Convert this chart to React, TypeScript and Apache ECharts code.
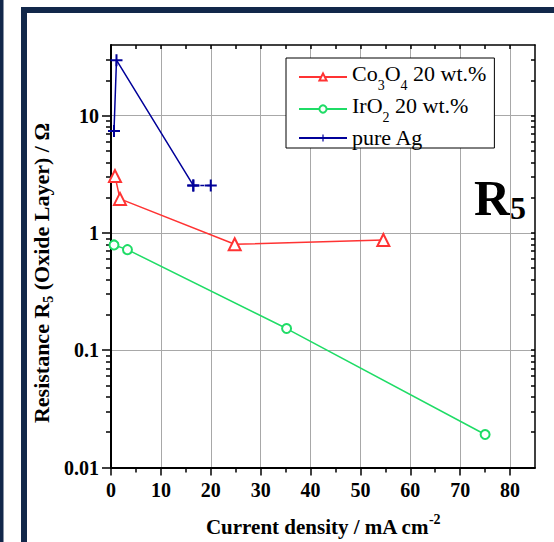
import React, { useEffect, useRef } from "react";
import * as echarts from "echarts";

const xTicks = [0, 10, 20, 30, 40, 50, 60, 70, 80];
const xMinor = [5, 15, 25, 35, 45, 55, 65, 75];
const yTicks = [0.01, 0.1, 1, 10];
const yMinor = [
  0.02, 0.03, 0.04, 0.05, 0.06, 0.07, 0.08, 0.09,
  0.2, 0.3, 0.4, 0.5, 0.6, 0.7, 0.8, 0.9,
  2, 3, 4, 5, 6, 7, 8, 9,
  20, 30,
];

const seriesNames = ["Co3O4 20 wt.%", "IrO2 20 wt.%", "pure Ag"];

const co3o4X = [0.8, 1.8, 24.8, 54.6];
const co3o4Y = [3.05, 1.95, 0.8, 0.87];

const iro2X = [0.6, 3.3, 35.2, 75.0];
const iro2Y = [0.79, 0.72, 0.153, 0.0191];

const agX = [0.6, 1.1, 16.5, 20.0];
const agY = [7.4, 29.7, 2.54, 2.54];

const RED = "#ff3333";
const GREEN = "#1fdc66";
const BLUE = "#000099";
const NAVY = "#12284a";
const GRID = "#a8a8a8";
const SERIF = "'Liberation Serif', 'Times New Roman', serif";

const zip = (xs: number[], ys: number[]) => xs.map((x, i) => [x, ys[i]]);

const PLUS = "path://M5,0H7V5H12V7H7V12H5V7H0V5H5Z";

export default function App() {
  const ref = useRef<HTMLDivElement>(null);

  useEffect(() => {
    document.body.style.margin = "0";
    if (!ref.current) return;
    const chart = echarts.init(ref.current, null, { renderer: "svg" });

    const legendRich = {
      a: { fontFamily: SERIF, fontSize: 22, color: "#000", lineHeight: 24, verticalAlign: "top" },
      s: { fontFamily: SERIF, fontSize: 14, color: "#000", lineHeight: 30, verticalAlign: "bottom" },
    };

    const grid = { left: 111, top: 45, right: 19, bottom: 74 };

    const option: any = {
      animation: false,
      backgroundColor: "#fff",
      grid,
      graphic: [
        { type: "rect", shape: { x: 0, y: 0, width: 3.5, height: 542 }, style: { fill: NAVY }, silent: true },
        {
          type: "rect",
          shape: { x: 24, y: 10, width: 700, height: 700 },
          style: { fill: "none", stroke: NAVY, lineWidth: 6 },
          silent: true,
        },
        {
          type: "text",
          x: 41,
          y: 273,
          rotation: Math.PI / 2,
          style: {
            text: "{a|Resistance R}{s|5}{a| (Oxide Layer) / Ω}",
            align: "center",
            verticalAlign: "middle",
            rich: {
              a: { fontFamily: SERIF, fontWeight: "bold", fontSize: 22, fill: "#000", lineHeight: 28 },
              s: { fontFamily: SERIF, fontWeight: "bold", fontSize: 14, fill: "#000", lineHeight: 6, verticalAlign: "bottom" },
            },
          },
        },
        {
          type: "text",
          x: 474,
          y: 172,
          style: {
            text: "{r|R}{s|5}",
            rich: {
              r: { fontFamily: SERIF, fontWeight: "bold", fontSize: 50, fill: "#000", lineHeight: 52 },
              s: { fontFamily: SERIF, fontWeight: "bold", fontSize: 32, fill: "#000", lineHeight: 30, verticalAlign: "bottom" },
            },
          },
        },
      ],
      legend: {
        data: seriesNames,
        orient: "vertical",
        left: 286,
        top: 58,
        padding: [4, 8, 0, 12],
        itemGap: 2,
        itemWidth: 48,
        itemHeight: 9,
        borderColor: "#000",
        borderWidth: 1,
        backgroundColor: "#fff",
        formatter: (name: string) => {
          if (name === seriesNames[0]) return "{a|Co}{s|3}{a|O}{s|4}{a| 20 wt.%}";
          if (name === seriesNames[1]) return "{a|IrO}{s|2}{a| 20 wt.%}";
          return "{a|pure Ag}";
        },
        textStyle: { rich: legendRich },
      },
      xAxis: [
        {
          type: "value",
          position: "bottom",
          min: 0,
          max: 85,
          interval: 10,
          axisLine: { show: true, onZero: false, lineStyle: { color: "#000", width: 2 } },
          axisTick: { show: true, inside: false, length: 8, customValues: xTicks, lineStyle: { color: "#000", width: 1.5 } },
          axisLabel: {
            customValues: xTicks,
            margin: 12,
            formatter: (v: number) => (v % 10 === 0 && v <= 80 ? String(v) : ""),
            fontFamily: SERIF,
            fontWeight: "bold",
            fontSize: 20,
            color: "#000",
          },
          splitLine: { show: true, lineStyle: { color: GRID, width: 1 } },
          name: "{a|Current density / mA cm}{p|-2}",
          nameLocation: "middle",
          nameGap: 45,
          nameTextStyle: {
            rich: {
              a: { fontFamily: SERIF, fontWeight: "bold", fontSize: 21, color: "#000", lineHeight: 28 },
              p: { fontFamily: SERIF, fontWeight: "bold", fontSize: 14, color: "#000", lineHeight: 14, verticalAlign: "top" },
            },
          },
        },
        {
          type: "value",
          position: "bottom",
          min: 0,
          max: 85,
          interval: 10,
          axisLine: { show: false, onZero: false },
          axisTick: { show: true, inside: false, length: 5, customValues: xMinor, lineStyle: { color: "#000", width: 1.5 } },
          axisLabel: { show: false },
          splitLine: { show: false },
        },
        {
          type: "value",
          position: "top",
          min: 0,
          max: 85,
          interval: 10,
          axisLine: { show: true, onZero: false, lineStyle: { color: "#000", width: 1.5 } },
          axisTick: { show: true, inside: true, length: 4, customValues: [...xTicks, ...xMinor], lineStyle: { color: "#000", width: 1.5 } },
          axisLabel: { show: false },
          splitLine: { show: false },
        },
      ],
      yAxis: [
        {
          type: "log",
          logBase: 10,
          position: "left",
          min: 0.01,
          max: 40,
          axisLine: { show: true, onZero: false, lineStyle: { color: "#000", width: 2 } },
          axisTick: { show: true, inside: false, length: 9, customValues: yTicks, lineStyle: { color: "#000", width: 1.5 } },
          axisLabel: {
            customValues: yTicks,
            margin: 12,
            formatter: (v: number) => {
              const l = Math.log10(v);
              return Math.abs(l - Math.round(l)) < 1e-6 ? String(v) : "";
            },
            fontFamily: SERIF,
            fontWeight: "bold",
            fontSize: 20,
            color: "#000",
          },
          splitLine: { show: true, lineStyle: { color: GRID, width: 1 } },
        },
        {
          type: "log",
          logBase: 10,
          position: "left",
          min: 0.01,
          max: 40,
          axisLine: { show: false, onZero: false },
          axisTick: { show: true, inside: false, length: 5, customValues: yMinor, lineStyle: { color: "#000", width: 1.5 } },
          axisLabel: { show: false },
          splitLine: { show: false },
        },
        {
          type: "log",
          logBase: 10,
          position: "right",
          min: 0.01,
          max: 40,
          axisLine: { show: true, onZero: false, lineStyle: { color: "#000", width: 1.5 } },
          axisTick: { show: true, inside: true, length: 4, customValues: [...yTicks, ...yMinor], lineStyle: { color: "#000", width: 1.5 } },
          axisLabel: { show: false },
          splitLine: { show: false },
        },
      ],
      series: [
        {
          name: seriesNames[0],
          type: "line",
          data: zip(co3o4X, co3o4Y),
          symbol: "emptyTriangle",
          symbolSize: 12,
          color: RED,
          lineStyle: { color: RED, width: 1.5 },
          itemStyle: { color: RED, borderColor: RED, borderWidth: 1.6 },
          z: 3,
        },
        {
          name: seriesNames[1],
          type: "line",
          data: zip(iro2X, iro2Y),
          symbol: "emptyCircle",
          symbolSize: 9,
          color: GREEN,
          lineStyle: { color: GREEN, width: 1.5 },
          itemStyle: { color: GREEN, borderColor: GREEN, borderWidth: 1.6 },
          z: 3,
        },
        {
          name: seriesNames[2],
          type: "line",
          data: zip(agX.slice(0, 3), agY.slice(0, 3)),
          symbol: PLUS,
          symbolSize: 12,
          color: BLUE,
          lineStyle: { color: BLUE, width: 1.5 },
          itemStyle: { color: BLUE, borderWidth: 0 },
          z: 3,
        },
        {
          name: "pure Ag (dashed)",
          type: "line",
          data: zip(agX.slice(2), agY.slice(2)),
          symbol: PLUS,
          symbolSize: 12,
          color: BLUE,
          lineStyle: { color: BLUE, width: 1.5, type: [4, 3] },
          itemStyle: { color: BLUE, borderWidth: 0 },
          z: 3,
        },
      ],
    };

    chart.setOption(option);
    return () => chart.dispose();
  }, []);

  return <div ref={ref} style={{ width: 554, height: 542 }} />;
}
